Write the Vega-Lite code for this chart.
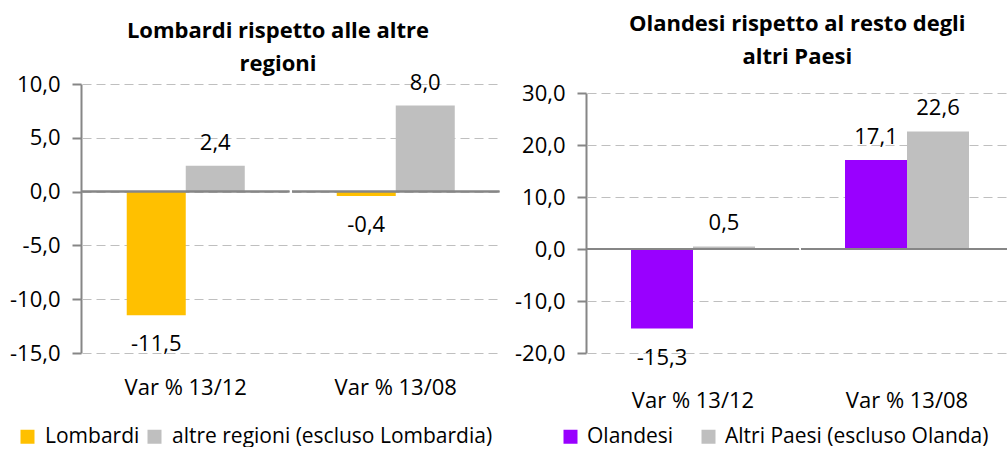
{
  "$schema": "https://vega.github.io/schema/vega-lite/v6.json",
  "padding": {"left": 9, "top": 13, "right": 0, "bottom": 0},
  "background": "white",
  "config": {
    "locale": {"number": {"decimal": ",", "thousands": ".", "grouping": [3], "currency": ["", " €"], "minus": "-"}},
    "font": "Open Sans",
    "view": {"stroke": null},
    "facet": {"spacing": 0}
  },
  "columns": 2,
  "align": "none",
  "spacing": 13,
  "resolve": {"scale": {"color": "independent", "y": "independent", "x": "independent"}, "legend": {"color": "independent"}},
  "concat": [
    {
      "title": {"text": ["Lombardi rispetto alle altre", "regioni"], "font": "Open Sans", "fontSize": 22, "fontWeight": "bold", "color": "black", "anchor": "middle", "offset": -4, "lineHeight": 33, "dx": 23},
      "data": {"values": [
        {"periodo": "Var % 13/12", "serie": "Lombardi", "v": -11.5},
        {"periodo": "Var % 13/12", "serie": "altre regioni (escluso Lombardia)", "v": 2.4},
        {"periodo": "Var % 13/08", "serie": "Lombardi", "v": -0.4},
        {"periodo": "Var % 13/08", "serie": "altre regioni (escluso Lombardia)", "v": 8.0}
      ]},
      "facet": {"column": {"field": "periodo", "type": "nominal", "sort": ["Var % 13/12", "Var % 13/08"],
        "header": {"labelOrient": "bottom", "labelFontSize": 22, "labelFont": "Open Sans", "labelPadding": 22, "labelColor": "black", "title": null}}},
      "spacing": 0,
      "spec": {
        "width": 207.5,
        "height": 269,
        "encoding": {
          "x": {"field": "serie", "type": "nominal", "sort": ["Lombardi", "altre regioni (escluso Lombardia)"],
                "scale": {"type": "band", "paddingInner": 0, "paddingOuter": 0.758}, "axis": null},
          "y": {"field": "v", "type": "quantitative", "scale": {"domain": [-15, 10], "nice": false, "zero": false},
                "axis": {"values": [-15, -10, -5, 0, 5, 10], "format": ".1f", "grid": true, "gridDash": [9, 5], "gridColor": "#BFBFBF", "domainColor": "#868686", "domainWidth": 2, "tickColor": "#868686", "tickSize": 9, "tickWidth": 2, "labelFontSize": 22, "labelColor": "black", "title": null, "labelPadding": 12}}
        },
        "layer": [
          {
            "mark": {"type": "bar"},
            "encoding": {
              "color": {"field": "serie", "type": "nominal",
                        "scale": {"domain": ["Lombardi", "altre regioni (escluso Lombardia)"], "range": ["#FFC000", "#BFBFBF"]},
                        "legend": {"orient": "none", "legendX": -65, "legendY": 342, "direction": "horizontal", "symbolType": "square", "symbolSize": 196, "symbolStrokeWidth": 0, "labelFontSize": 21, "labelColor": "black", "title": null, "columnPadding": 4, "labelOffset": 7, "labelLimit": 500}}
            }
          },
          {
            "mark": {"type": "rule", "color": "#868686", "strokeWidth": 2},
            "encoding": {"x": null, "y": {"datum": 0, "type": "quantitative"}}
          },
          {
            "transform": [{"filter": "datum.v >= 0"}],
            "mark": {"type": "text", "dy": -23, "fontSize": 22, "color": "black"},
            "encoding": {"text": {"field": "v", "format": ".1f"}}
          },
          {
            "transform": [{"filter": "datum.v < 0"}],
            "mark": {"type": "text", "dy": 29, "fontSize": 22, "color": "black"},
            "encoding": {"text": {"field": "v", "format": ".1f"}}
          }
        ]
      }
    },
    {
      "title": {"text": ["Olandesi rispetto al resto degli", "altri Paesi"], "font": "Open Sans", "fontSize": 22, "fontWeight": "bold", "color": "black", "anchor": "middle", "offset": 13, "lineHeight": 33, "dx": 33},
      "data": {"values": [
        {"periodo": "Var % 13/12", "serie": "Olandesi", "v": -15.3},
        {"periodo": "Var % 13/12", "serie": "Altri Paesi (escluso Olanda)", "v": 0.5},
        {"periodo": "Var % 13/08", "serie": "Olandesi", "v": 17.1},
        {"periodo": "Var % 13/08", "serie": "Altri Paesi (escluso Olanda)", "v": 22.6}
      ]},
      "facet": {"column": {"field": "periodo", "type": "nominal", "sort": ["Var % 13/12", "Var % 13/08"],
        "header": {"labelOrient": "bottom", "labelFontSize": 22, "labelFont": "Open Sans", "labelPadding": 22, "labelColor": "black", "title": null}}},
      "spacing": 0,
      "spec": {
        "width": 212,
        "height": 269,
        "encoding": {
          "x": {"field": "serie", "type": "nominal", "sort": ["Olandesi", "Altri Paesi (escluso Olanda)"],
                "scale": {"type": "band", "paddingInner": 0, "paddingOuter": 0.71}, "axis": null},
          "y": {"field": "v", "type": "quantitative", "scale": {"domain": [-20, 30], "nice": false, "zero": false, "range": [269, 9]},
                "axis": {"values": [-20, -10, 0, 10, 20, 30], "format": ".1f", "grid": true, "gridDash": [9, 5], "gridColor": "#BFBFBF", "domainColor": "#868686", "domainWidth": 2, "tickColor": "#868686", "tickSize": 9, "tickWidth": 2, "labelFontSize": 22, "labelColor": "black", "title": null, "labelPadding": 12}}
        },
        "layer": [
          {
            "mark": {"type": "bar"},
            "encoding": {
              "color": {"field": "serie", "type": "nominal",
                        "scale": {"domain": ["Olandesi", "Altri Paesi (escluso Olanda)"], "range": ["#9900FF", "#BFBFBF"]},
                        "legend": {"orient": "none", "legendX": -27, "legendY": 342, "direction": "horizontal", "symbolType": "square", "symbolSize": 196, "symbolStrokeWidth": 0, "labelFontSize": 21, "labelColor": "black", "title": null, "columnPadding": 24, "labelOffset": 6, "labelLimit": 500}}
            }
          },
          {
            "mark": {"type": "rule", "color": "#868686", "strokeWidth": 2},
            "encoding": {"x": null, "y": {"datum": 0, "type": "quantitative"}}
          },
          {
            "transform": [{"filter": "datum.v >= 0"}],
            "mark": {"type": "text", "dy": -23, "fontSize": 22, "color": "black"},
            "encoding": {"text": {"field": "v", "format": ".1f"}}
          },
          {
            "transform": [{"filter": "datum.v < 0"}],
            "mark": {"type": "text", "dy": 29, "fontSize": 22, "color": "black"},
            "encoding": {"text": {"field": "v", "format": ".1f"}}
          }
        ]
      }
    }
  ]
}
